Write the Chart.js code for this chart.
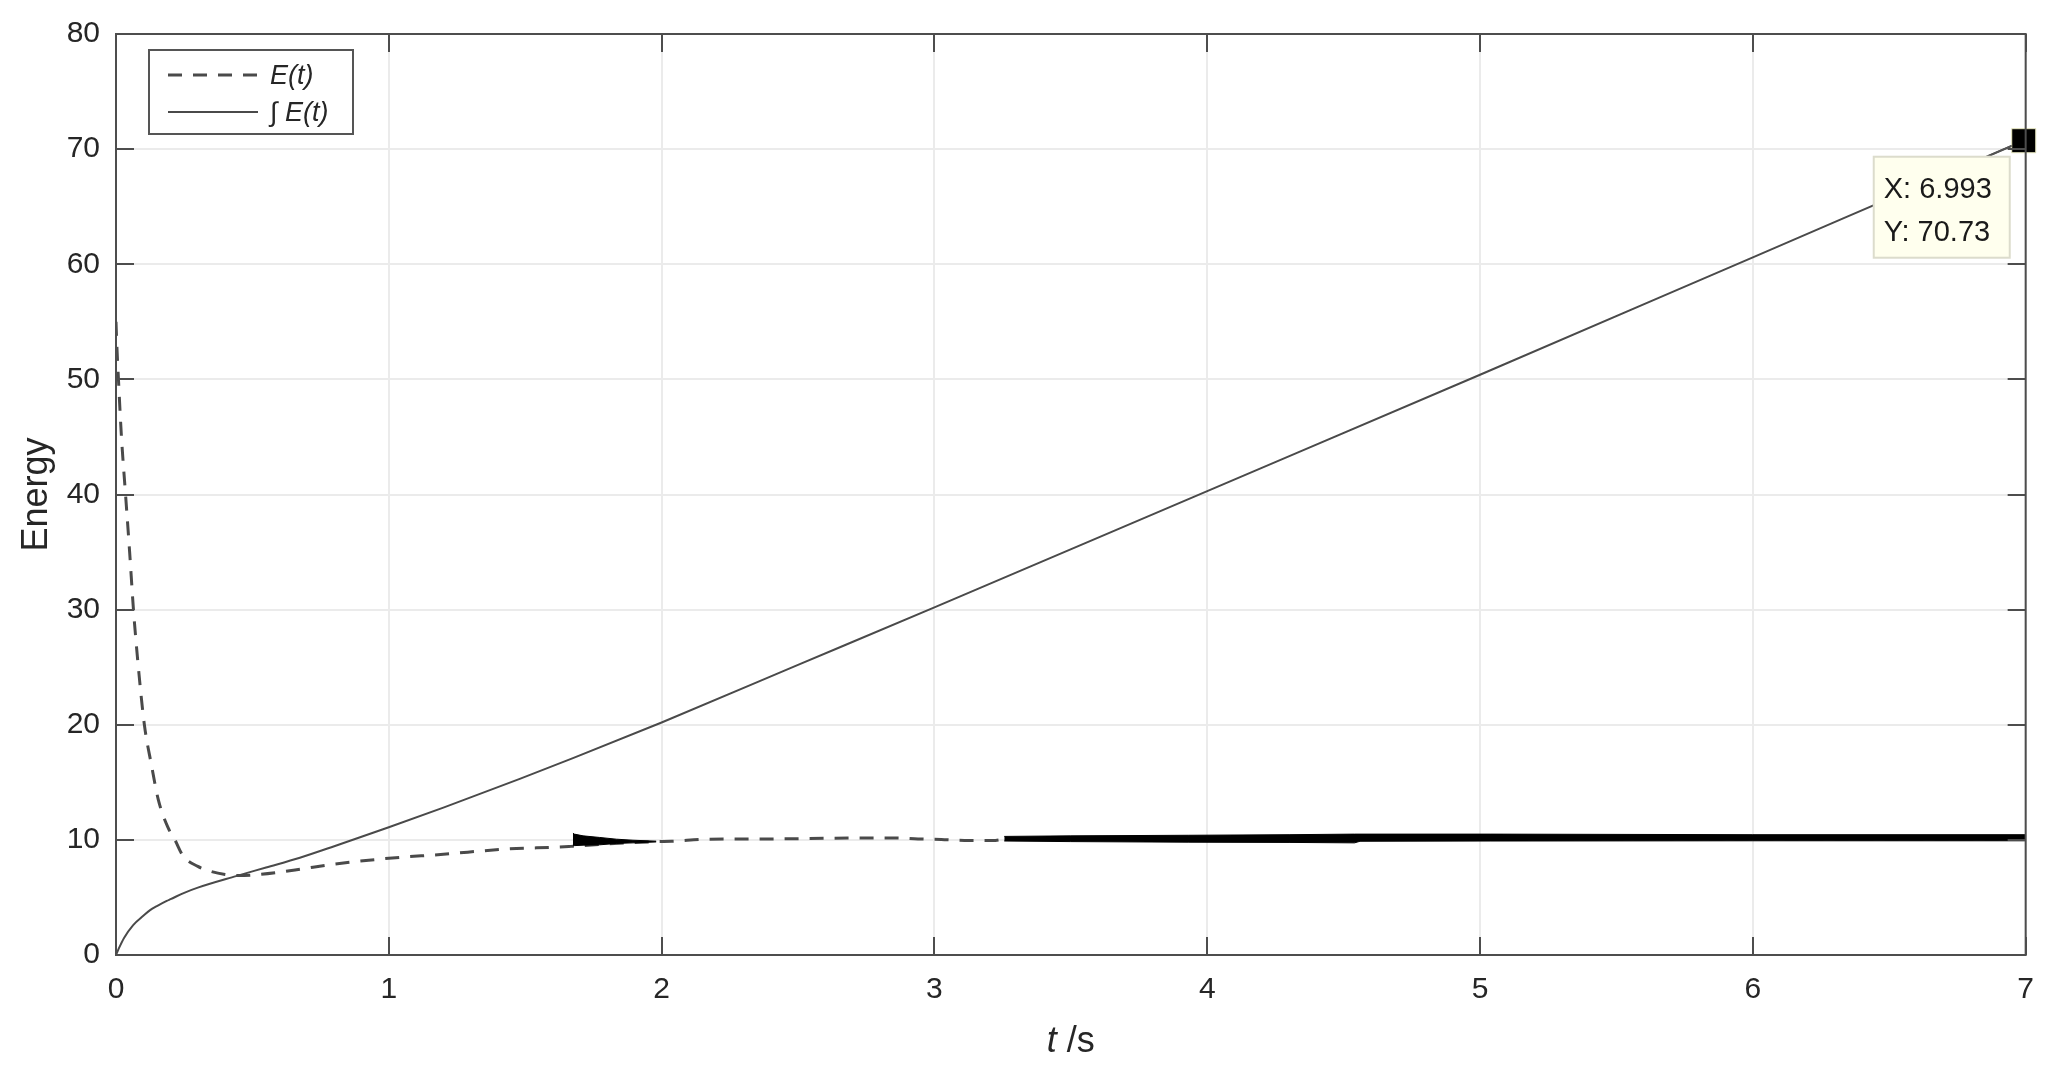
<!DOCTYPE html>
<html>
<head>
<meta charset="utf-8">
<script src="https://cdn.jsdelivr.net/npm/chart.js@4/dist/chart.umd.min.js"></script>
<style>
  html, body { margin: 0; padding: 0; background: #fff; }
  canvas { display: block; }
</style>
</head>
<body>
<canvas id="energyChart" width="2051" height="1067"></canvas>
<script>
// E(t)
const eTime = [0, 0.003, 0.009, 0.02, 0.035, 0.05, 0.064, 0.08, 0.104, 0.13, 0.155, 0.19, 0.216, 0.246, 0.3, 0.35, 0.4, 0.45, 0.5, 0.6, 0.674, 0.8, 1.0, 1.2, 1.43, 1.66, 1.675, 1.98, 2.037, 2.164, 2.35, 2.54, 2.71, 2.857, 2.94, 3.025, 3.11, 3.215, 3.256, 4.0, 5.0, 6.0, 7.0];
const eEnergy = [55, 53, 50, 45, 40, 35, 30, 25.5, 20, 16.5, 13.5, 11.1, 10, 8.6, 7.7, 7.25, 7.0, 6.9, 6.95, 7.2, 7.45, 7.9, 8.4, 8.75, 9.2, 9.42, 9.45, 9.85, 9.88, 10.05, 10.08, 10.11, 10.17, 10.17, 10.08, 10.03, 9.95, 9.95, 10.05, 10.1, 10.1, 10.1, 10.1];

// integral of E(t), solid curve
const intTime = [0, 0.01, 0.03, 0.063, 0.1, 0.125, 0.15, 0.186, 0.2, 0.25, 0.3, 0.44, 0.55, 0.674, 0.8, 1.0, 1.2, 1.48, 1.675, 2.0, 2.5, 3.0, 4.0, 5.0, 6.0, 6.993, 7.0];
const intEnergy = [0, 0.55, 1.5, 2.6, 3.4, 3.9, 4.25, 4.7, 4.85, 5.4, 5.85, 6.85, 7.6, 8.45, 9.45, 11.1, 12.8, 15.3, 17.1, 20.2, 25.2, 30.2, 40.3, 50.4, 60.6, 70.73, 70.8];

// fast oscillation of E(t): envelopes of the two black bands
const burstTime = [1.675, 1.68, 1.712, 1.773, 1.834, 1.895, 1.98];
const burstHigh = [10.58, 10.5, 10.35, 10.21, 10.06, 9.97, 9.89];
const burstLow  = [9.48, 9.5, 9.54, 9.57, 9.69, 9.74, 9.82];

const bandTime = [3.256, 3.5, 3.93, 4.3, 4.54, 4.56, 5.04, 6.0, 7.0];
const bandHigh = [10.3, 10.35, 10.4, 10.45, 10.5, 10.5, 10.5, 10.45, 10.45];
const bandLow  = [9.9, 9.85, 9.8, 9.78, 9.74, 9.88, 9.9, 9.92, 9.92];

// data tip
const tipX = 6.993;
const tipY = 70.73;

const xTicks = [0, 1, 2, 3, 4, 5, 6, 7];
const yTicks = [0, 10, 20, 30, 40, 50, 60, 70, 80];

const seriesLabels = ['E(t)', '\u222B E(t)'];

const FONT = '"Liberation Sans", Arial, Helvetica, sans-serif';
const textColor = '#262626';
const lineColor = '#4a4a4a';
const axisColor = '#4d4d4d';
const gridColor = '#ebebeb';

function pairs(xs, ys) {
  return xs.map((x, i) => ({x: x, y: ys[i]}));
}

// box, inward ticks, legend, x title and data tip, in the MATLAB look
const matlabFrame = {
  id: 'matlabFrame',
  afterDatasetsDraw(chart) {
    const ctx = chart.ctx;
    const a = chart.chartArea;
    const xs = chart.scales.x;
    const ys = chart.scales.y;
    const tl = 18;

    ctx.save();
    ctx.strokeStyle = axisColor;
    ctx.lineWidth = 2;
    ctx.strokeRect(a.left, a.top, a.right - a.left, a.bottom - a.top);
    ctx.beginPath();
    xTicks.forEach(v => {
      const px = Math.round(xs.getPixelForValue(v));
      ctx.moveTo(px, a.bottom); ctx.lineTo(px, a.bottom - tl);
      ctx.moveTo(px, a.top); ctx.lineTo(px, a.top + tl);
    });
    yTicks.forEach(v => {
      const py = Math.round(ys.getPixelForValue(v));
      ctx.moveTo(a.left, py); ctx.lineTo(a.left + tl, py);
      ctx.moveTo(a.right, py); ctx.lineTo(a.right - tl, py);
    });
    ctx.stroke();

    // legend
    const lx = a.left + 33, ly = a.top + 16, lw = 204, lh = 84;
    ctx.fillStyle = '#fff';
    ctx.fillRect(lx, ly, lw, lh);
    ctx.strokeStyle = '#555';
    ctx.lineWidth = 2;
    ctx.strokeRect(lx, ly, lw, lh);
    const rows = [ly + 25, ly + 62];
    chart.data.datasets.slice(0, 2).forEach((ds, i) => {
      ctx.beginPath();
      ctx.strokeStyle = ds.borderColor;
      ctx.lineWidth = ds.borderWidth;
      ctx.setLineDash(ds.borderDash || []);
      ctx.moveTo(lx + 19, rows[i]);
      ctx.lineTo(lx + 109, rows[i]);
      ctx.stroke();
      ctx.setLineDash([]);
      ctx.fillStyle = textColor;
      ctx.font = 'italic 27px ' + FONT;
      ctx.textBaseline = 'middle';
      ctx.textAlign = 'left';
      ctx.fillText(ds.label, lx + 121, rows[i] + 1);
    });

    // x axis title: italic t, upright unit
    ctx.font = 'italic 36px ' + FONT;
    const wT = ctx.measureText('t').width;
    ctx.font = '36px ' + FONT;
    const wS = ctx.measureText(' /s').width;
    const cx = (a.left + a.right) / 2 - (wT + wS) / 2;
    ctx.fillStyle = textColor;
    ctx.textBaseline = 'alphabetic';
    ctx.textAlign = 'left';
    ctx.font = 'italic 36px ' + FONT;
    ctx.fillText('t', cx, 1052);
    ctx.font = '36px ' + FONT;
    ctx.fillText(' /s', cx + wT, 1052);

    // data tip
    const pt = chart.getDatasetMeta(6).data[0];
    const px = pt.x, py = pt.y;
    ctx.strokeStyle = '#555';
    ctx.lineWidth = 1.5;
    ctx.beginPath();
    ctx.moveTo(px - 12, py + 5);
    ctx.lineTo(px - 35, py + 15);
    ctx.stroke();
    const bx = px - 150, by = py + 16, bw = 136, bh = 101;
    ctx.fillStyle = '#ffffee';
    ctx.fillRect(bx, by, bw, bh);
    ctx.strokeStyle = '#dcdccc';
    ctx.lineWidth = 2;
    ctx.strokeRect(bx, by, bw, bh);
    ctx.fillStyle = '#1a1a1a';
    ctx.font = '29px ' + FONT;
    ctx.textBaseline = 'alphabetic';
    ctx.fillText('X: ' + tipX, bx + 10, by + 41);
    ctx.fillText('Y: ' + tipY, bx + 10, by + 84);
    ctx.restore();
  }
};

const ctx = document.getElementById('energyChart');

new Chart(ctx, {
  type: 'line',
  data: {
    datasets: [
      {
        label: seriesLabels[0],
        data: pairs(eTime, eEnergy),
        borderColor: lineColor,
        borderWidth: 3,
        borderDash: [14, 11],
        pointRadius: 0,
        cubicInterpolationMode: 'monotone',
        fill: false,
        order: 2
      },
      {
        label: seriesLabels[1],
        data: pairs(intTime, intEnergy),
        borderColor: lineColor,
        borderWidth: 2,
        pointRadius: 0,
        cubicInterpolationMode: 'monotone',
        fill: false,
        order: 1
      },
      {
        label: 'burst high',
        data: pairs(burstTime, burstHigh),
        borderColor: '#000',
        borderWidth: 1,
        pointRadius: 0,
        fill: false,
        order: 0
      },
      {
        label: 'burst low',
        data: pairs(burstTime, burstLow),
        borderColor: '#000',
        backgroundColor: '#000',
        borderWidth: 1,
        pointRadius: 0,
        fill: '-1',
        order: 0
      },
      {
        label: 'band high',
        data: pairs(bandTime, bandHigh),
        borderColor: '#000',
        borderWidth: 1,
        pointRadius: 0,
        fill: false,
        order: 0
      },
      {
        label: 'band low',
        data: pairs(bandTime, bandLow),
        borderColor: '#000',
        backgroundColor: '#000',
        borderWidth: 1,
        pointRadius: 0,
        fill: '-1',
        order: 0
      },
      {
        label: 'tip',
        data: [{x: tipX, y: tipY}],
        showLine: false,
        clip: false,
        pointStyle: 'rect',
        pointRadius: 17,
        pointBackgroundColor: '#000',
        pointBorderColor: '#e8e8c0',
        pointBorderWidth: 1,
        order: -1
      }
    ]
  },
  options: {
    responsive: false,
    animation: false,
    devicePixelRatio: 1,
    layout: {
      padding: {left: 0, top: 30, right: 24, bottom: 0}
    },
    plugins: {
      legend: {display: false},
      tooltip: {enabled: false}
    },
    scales: {
      x: {
        type: 'linear',
        min: 0,
        max: 7,
        afterFit: function(scale) { scale.height = 112; },
        afterBuildTicks: function(scale) { scale.ticks = xTicks.map(v => ({value: v})); },
        grid: {color: gridColor, lineWidth: 2, drawTicks: false},
        border: {display: false},
        ticks: {
          padding: 17,
          color: textColor,
          font: {family: FONT, size: 30, lineHeight: 1.2},
          maxRotation: 0
        }
      },
      y: {
        type: 'linear',
        min: 0,
        max: 80,
        afterFit: function(scale) { scale.width = 116; },
        afterBuildTicks: function(scale) { scale.ticks = yTicks.map(v => ({value: v})); },
        grid: {color: gridColor, lineWidth: 2, drawTicks: false},
        border: {display: false},
        ticks: {
          padding: 16,
          color: textColor,
          font: {family: FONT, size: 30, lineHeight: 1.2}
        },
        title: {
          display: true,
          text: 'Energy',
          color: textColor,
          font: {family: FONT, size: 36, lineHeight: 1.2},
          padding: {top: 15, bottom: 0}
        }
      }
    }
  },
  plugins: [matlabFrame]
});
</script>
</body>
</html>
